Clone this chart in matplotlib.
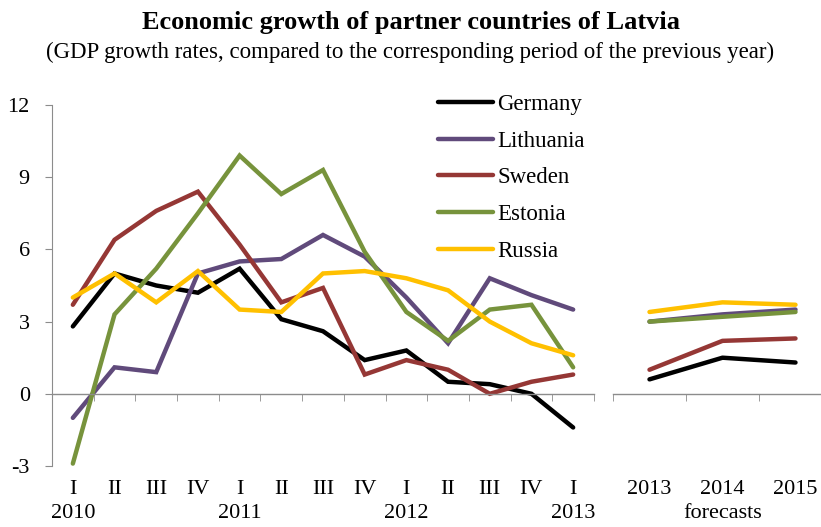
import numpy as np
from matplotlib import pyplot as plt
from matplotlib import transforms

plt.rcParams['font.family'] = 'Liberation Serif'
plt.rcParams['axes.unicode_minus'] = False

quarters = ['I', 'II', 'III', 'IV', 'I', 'II', 'III', 'IV', 'I', 'II', 'III', 'IV', 'I']
years = ['2010', '2011', '2012', '2013']
year_pos = [0, 4, 8, 12]
forecast_years = ['2013', '2014', '2015']

countries = ['Germany', 'Lithuania', 'Sweden', 'Estonia', 'Russia']
colors = ['#000000', '#604A7B', '#953735', '#77933C', '#FFC000']

germany = [2.8, 5.0, 4.5, 4.2, 5.2, 3.1, 2.6, 1.4, 1.8, 0.5, 0.4, 0.0, -1.4]
lithuania = [-1.0, 1.1, 0.9, 5.0, 5.5, 5.6, 6.6, 5.7, 4.0, 2.1, 4.8, 4.1, 3.5]
sweden = [3.7, 6.4, 7.6, 8.4, 6.2, 3.8, 4.4, 0.8, 1.4, 1.0, 0.0, 0.5, 0.8]
estonia = [-2.9, 3.3, 5.2, 7.5, 9.9, 8.3, 9.3, 5.9, 3.4, 2.2, 3.5, 3.7, 1.1]
russia = [4.0, 5.0, 3.8, 5.1, 3.5, 3.4, 5.0, 5.1, 4.8, 4.3, 3.0, 2.1, 1.6]

germany_fc = [0.6, 1.5, 1.3]
lithuania_fc = [3.0, 3.3, 3.5]
sweden_fc = [1.0, 2.2, 2.3]
estonia_fc = [3.0, 3.2, 3.4]
russia_fc = [3.4, 3.8, 3.7]

quarterly = [germany, lithuania, sweden, estonia, russia]
forecasts = [germany_fc, lithuania_fc, sweden_fc, estonia_fc, russia_fc]

W, H = 821, 527
fig = plt.figure(figsize=(W / 100, H / 100), dpi=100)

bottom = (H - 466) / H
height = (466 - 105) / H
ax1 = fig.add_axes([52 / W, bottom, (594 - 52) / W, height])
ax2 = fig.add_axes([613 / W, bottom, (W - 613) / W, height])

grey = '#8C8C8C'
fs = 16
x1 = np.arange(len(quarters))
x2 = np.arange(len(forecast_years))

for name, col, q, f in zip(countries, colors, quarterly, forecasts):
    ax1.plot(x1, q, color=col, linewidth=3.2, label=name, solid_capstyle='round', solid_joinstyle='miter')
    ax2.plot(x2, f, color=col, linewidth=3.2, solid_capstyle='round')

for ax in (ax1, ax2):
    ax.set_ylim(-3, 12)
    ax.spines['top'].set_visible(False)
    ax.spines['right'].set_visible(False)
    ax.spines['bottom'].set_position(('data', 0))
    ax.spines['bottom'].set_color(grey)
    ax.spines['bottom'].set_linewidth(1.0)
    ax.set_xticks([])
    ax.tick_params(axis='x', which='minor', direction='out', length=5, color=grey, labelbottom=False)

ax1.set_xlim(-0.5, len(quarters) - 0.5)
ax1.set_xticks(np.arange(0.5, len(quarters) - 0.5 + 0.01, 1.0), minor=True)
ax1.spines['left'].set_color(grey)
ax1.set_yticks(np.arange(-3, 13, 3))
ax1.tick_params(axis='y', direction='out', length=5, color=grey, labelsize=fs, pad=11)

ax2.set_xlim(-0.5, -0.5 + (W - 613) / 73.0)
ax2.set_xticks([-0.5, 0.5, 1.5], minor=True)
ax2.spines['left'].set_visible(False)
ax2.set_yticks([])

# category labels below the plotting area
tr1 = transforms.blended_transform_factory(ax1.transData, fig.transFigure)
tr2 = transforms.blended_transform_factory(ax2.transData, fig.transFigure)
qy = 1 - 489 / H
yy = 1 - 514 / H
for i, q in enumerate(quarters):
    ax1.text(i, qy, q, transform=tr1, ha='center', va='center', fontsize=fs)
for p, y in zip(year_pos, years):
    ax1.text(p, yy, y, transform=tr1, ha='center', va='center', fontsize=fs)
for i, y in enumerate(forecast_years):
    ax2.text(i, qy, y, transform=tr2, ha='center', va='center', fontsize=fs)
ax2.text(1, yy, 'forecasts', transform=tr2, ha='center', va='center', fontsize=fs)

fig.text(0.5, 1 - 22 / H, 'Economic growth of partner countries of Latvia',
         ha='center', va='center', fontsize=19, fontweight='bold')
fig.text(0.5, 1 - 52 / H, '(GDP growth rates, compared to the corresponding period of the previous year)',
         ha='center', va='center', fontsize=16.5)

ax1.legend(loc='upper left', bbox_to_anchor=(438 / W, 1 - 94 / H), bbox_transform=fig.transFigure,
           frameon=False, fontsize=16.5, handlelength=2.4, handletextpad=0.2, labelspacing=0.68,
           borderaxespad=0, borderpad=0)

plt.savefig('out.png', dpi=100)
